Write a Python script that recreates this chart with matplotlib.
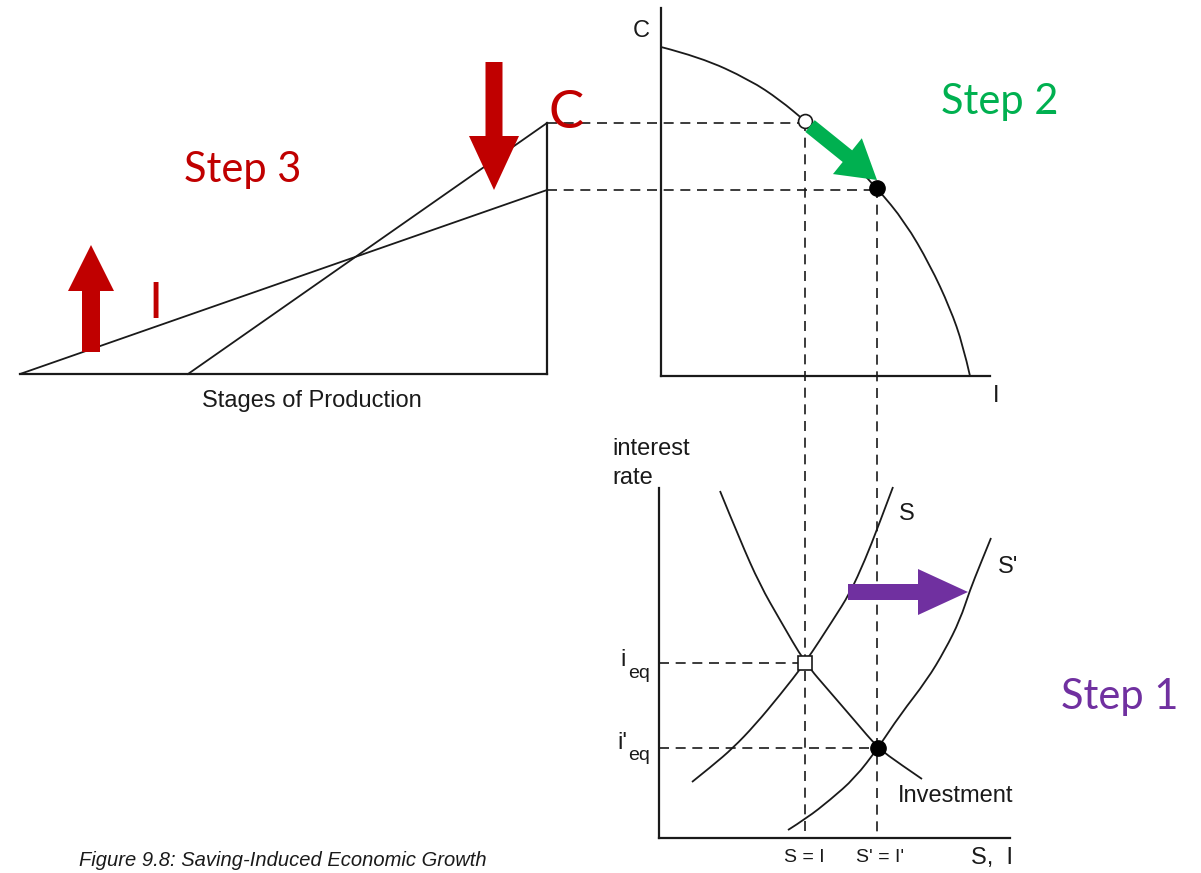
import matplotlib
matplotlib.use("Agg")
import matplotlib.pyplot as plt
from matplotlib.patches import FancyArrow, PathPatch
from matplotlib.path import Path

# ---- diagram data (pixel coords of the original figure, y downwards) ----
# stages of production triangle
tri_base = [20, 547]            # x range of baseline
tri_base_y = 374
tri_top = [123, 190]            # heights of C (new) and C (old)
line_old_x = [20, 547]
line_old_y = [374, 190]
line_new_x = [188, 547]
line_new_y = [374, 123]

# production possibilities frontier
ppf_x = [661, 700, 750, 780, 805, 840, 877, 905, 930, 950, 963, 970]
ppf_y = [47, 57, 80, 100, 121, 150, 188, 222, 265, 308, 345, 376]
ppf_old = (805, 121)
ppf_new = (877, 188)

# loanable funds market
inv_x = [720, 740, 760, 780, 805, 830, 855, 878, 900, 922]
inv_y = [491, 540, 585, 620, 663, 692, 721, 748, 764, 779]
s_x = [692, 712, 733, 755, 780, 805, 833, 850, 865, 878, 893]
s_y = [782, 766, 748, 725, 695, 663, 620, 593, 560, 527, 487]
s2_x = [788, 807, 830, 855, 878, 900, 927, 945, 960, 970, 980, 991]
s2_y = [830, 818, 800, 778, 748, 715, 680, 650, 620, 590, 565, 538]
eq_old = (805, 663)
eq_new = (878, 748)

RED = "#C00000"
GREEN = "#00B050"
PURPLE = "#7030A0"
INK = "#1a1a1a"


def smooth_curve(ax, xs, ys, **kw):
    # quadratic bezier through midpoints, read points used as control points
    pts = list(zip(xs, ys))
    verts = [pts[0]]
    codes = [Path.MOVETO]
    for i in range(1, len(pts) - 1):
        mid = ((pts[i][0] + pts[i + 1][0]) / 2, (pts[i][1] + pts[i + 1][1]) / 2)
        if i == len(pts) - 2:
            mid = pts[-1]
        verts += [pts[i], mid]
        codes += [Path.CURVE3, Path.CURVE3]
    ax.add_patch(PathPatch(Path(verts, codes), fill=False, **kw))


fig = plt.figure(figsize=(12.01, 8.73), dpi=100)
ax = fig.add_axes([0, 0, 1, 1])
ax.set_xlim(0, 1201)
ax.set_ylim(873, 0)
ax.set_aspect("equal")
ax.axis("off")

lw = 1.3
dash = dict(color=INK, lw=1.2, ls=(0, (6, 4)))
sans = "Liberation Sans"
fs = 17

# triangle
ax.plot(tri_base, [tri_base_y, tri_base_y], color=INK, lw=1.6)
ax.plot([tri_base[1], tri_base[1]], [tri_top[0], tri_base_y], color=INK, lw=1.6)
ax.plot(line_old_x, line_old_y, color=INK, lw=lw)
ax.plot(line_new_x, line_new_y, color=INK, lw=lw)
ax.text(312, 401, "Stages of Production", fontsize=fs, family=sans,
        ha="center", va="center", color=INK)

# PPF axes
ax.plot([661, 661], [8, 376], color=INK, lw=1.6)
ax.plot([661, 990], [376, 376], color=INK, lw=1.6)
smooth_curve(ax, ppf_x, ppf_y, color=INK, lw=lw)
ax.text(641, 31, "C", fontsize=fs, family=sans, ha="center", va="center", color=INK)
ax.text(996, 396, "I", fontsize=fs, family=sans, ha="center", va="center", color=INK)

# loanable funds axes
ax.plot([659, 659], [488, 838], color=INK, lw=1.6)
ax.plot([659, 1010], [838, 838], color=INK, lw=1.6)
smooth_curve(ax, inv_x, inv_y, color=INK, lw=lw)
smooth_curve(ax, s_x, s_y, color=INK, lw=lw)
smooth_curve(ax, s2_x, s2_y, color=INK, lw=lw)

# dashed connectors
ax.plot([tri_base[1], ppf_old[0]], [tri_top[0], tri_top[0]], **dash)
ax.plot([tri_base[1], ppf_new[0]], [tri_top[1], tri_top[1]], **dash)
ax.plot([ppf_old[0], ppf_old[0]], [ppf_old[1], 838], **dash)
ax.plot([ppf_new[0], ppf_new[0]], [ppf_new[1], 838], **dash)
ax.plot([659, eq_old[0]], [eq_old[1], eq_old[1]], **dash)
ax.plot([659, eq_new[0]], [eq_new[1], eq_new[1]], **dash)

# points
ax.plot(*ppf_old, "o", ms=10, mfc="white", mec=INK, mew=1.2, zorder=5)
ax.plot(*ppf_new, "o", ms=11, mfc="black", mec="black", zorder=5)
ax.plot(*eq_old, "s", ms=10, mfc="white", mec=INK, mew=1.2, zorder=5)
ax.plot(*eq_new, "o", ms=11, mfc="black", mec="black", zorder=5)

# labels lower chart
ax.text(612, 449, "interest", fontsize=fs, family=sans, ha="left", va="center", color=INK)
ax.text(612, 478, "rate", fontsize=fs, family=sans, ha="left", va="center", color=INK)
ax.text(623, 660, "i", fontsize=fs, family=sans, ha="center", va="center", color=INK)
ax.text(628, 673, "eq", fontsize=14, family=sans, ha="left", va="center", color=INK)
ax.text(622, 743, "i'", fontsize=fs, family=sans, ha="center", va="center", color=INK)
ax.text(628, 756, "eq", fontsize=14, family=sans, ha="left", va="center", color=INK)
ax.text(907, 514, "S", fontsize=fs, family=sans, ha="center", va="center", color=INK)
ax.text(1008, 567, "S'", fontsize=fs, family=sans, ha="center", va="center", color=INK)
ax.text(956, 796, "Investment", fontsize=fs, family=sans, ha="center", va="center", color=INK)
ax.text(804, 858, "S = I", fontsize=14, family=sans, ha="center", va="center", color=INK)
ax.text(880, 858, "S' = I'", fontsize=14, family=sans, ha="center", va="center", color=INK)
ax.text(992, 858, "S,  I", fontsize=fs, family=sans, ha="center", va="center", color=INK)

ax.text(283, 861, "Figure 9.8: Saving-Induced Economic Growth", fontsize=14.5,
        family=sans, style="italic", ha="center", va="center", color=INK)

# coloured annotation arrows
ax.add_patch(FancyArrow(848, 592, 120, 0, width=16, head_width=46, head_length=50,
                        length_includes_head=True, color=PURPLE, lw=0, zorder=6))
ax.add_patch(FancyArrow(810, 126, 67, 54, width=15, head_width=46, head_length=38,
                        length_includes_head=True, color=GREEN, lw=0, zorder=6))
ax.add_patch(FancyArrow(494, 62, 0, 128, width=17, head_width=50, head_length=54,
                        length_includes_head=True, color=RED, lw=0, zorder=6))
ax.add_patch(FancyArrow(91, 352, 0, -107, width=18, head_width=46, head_length=46,
                        length_includes_head=True, color=RED, lw=0, zorder=6))

step = "Lato"
ax.text(243, 170, "Step 3", fontsize=30, family=step, ha="center", va="center", color=RED)
ax.text(1000, 102, "Step 2", fontsize=30, family=step, ha="center", va="center", color=GREEN)
ax.text(1120, 697, "Step 1", fontsize=30, family=step, ha="center", va="center", color=PURPLE)
ax.text(566, 113, "C", fontsize=38, family=step, ha="center", va="center", color=RED)
ax.text(155, 304, "I", fontsize=36, family=step, ha="center", va="center", color=RED)

fig.savefig("out.png", dpi=100)
